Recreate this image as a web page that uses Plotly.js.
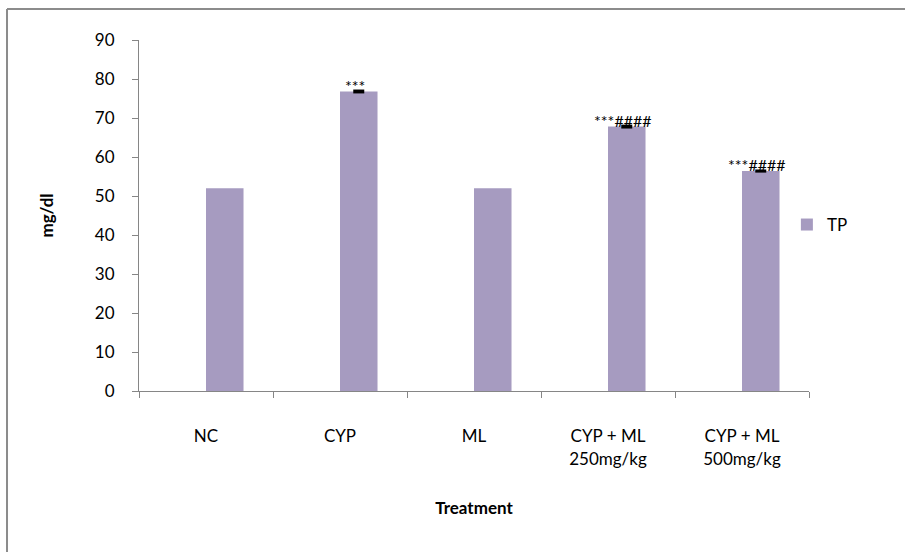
<!DOCTYPE html>
<html>
<head>
<meta charset="utf-8">
<script src="https://cdn.plot.ly/plotly-3.0.1.min.js"></script>
<style>html,body{margin:0;padding:0;background:#fff;}#chart{width:905px;height:552px;}</style>
</head>
<body>
<div id="chart"></div>
<script>
const categories = ["NC", "CYP", "ML", "CYP + ML<br>250mg/kg", "CYP + ML<br>500mg/kg"];
const tpValues = [52, 76.8, 52, 67.8, 56.4];
const tpErrors = [0, 0.5, 0, 0.5, 0.4];
const significance = ["", "***", "", "***####", "***####"];
const yTicks = [0, 10, 20, 30, 40, 50, 60, 70, 80, 90];

const font = "Lato, 'Open Sans', sans-serif";
const grey = "#868686";

const trace = {
  type: "bar",
  name: "TP",
  x: categories,
  y: tpValues,
  width: 0.28,
  offset: 0,
  marker: {color: "#a69bc0", line: {width: 0}},
  error_y: {type: "data", array: tpErrors, visible: true, color: "#000", thickness: 11, width: 0},
  showlegend: true
};

const annotations = categories.map((c, i) => significance[i] ? ({
  x: c, y: tpValues[i] + tpErrors[i], xref: "x", yref: "y",
  text: significance[i], showarrow: false, xanchor: "center", yanchor: "bottom",
  xshift: 15, yshift: -7, font: {family: font, size: 16, color: "#000"}
}) : null).filter(a => a);

const layout = {
  width: 905, height: 552,
  margin: {l: 139, r: 96, t: 40, b: 161},
  paper_bgcolor: "#fff", plot_bgcolor: "#fff",
  font: {family: font, size: 17, color: "#000"},
  xaxis: {
    type: "category", tickson: "boundaries", ticks: "outside", ticklen: 6, tickcolor: grey,
    showline: true, linecolor: grey, linewidth: 1, showgrid: false, zeroline: false,
    ticklabelstandoff: 30,
    tickfont: {family: font, size: 17, color: "#000"},
    title: {text: "<b>Treatment</b>", font: {family: font, size: 17}, standoff: 34},
    automargin: false
  },
  yaxis: {
    range: [0, 90], tickvals: yTicks, ticktext: yTicks.map(String),
    ticks: "outside", ticklen: 6, tickcolor: grey,
    showline: true, linecolor: grey, linewidth: 1, showgrid: false, zeroline: false,
    ticklabelstandoff: 14,
    tickfont: {family: font, size: 17, color: "#000"},
    title: {text: "<b>mg/dl</b>", font: {family: font, size: 17}, standoff: 36},
    automargin: false
  },
  legend: {x: 0.967, y: 0.473, xanchor: "left", yanchor: "middle", bgcolor: "rgba(0,0,0,0)",
    font: {family: font, size: 17}, itemwidth: 30},
  annotations: annotations,
  shapes: [
    {type: "line", xref: "paper", yref: "paper", x0: -0.197, x1: -0.197, y0: -0.5, y1: 1.088,
     line: {color: "#8c8c8c", width: 2}},
    {type: "line", xref: "paper", yref: "paper", x0: -0.197, x1: 1.2, y0: 1.088, y1: 1.088,
     line: {color: "#8c8c8c", width: 2}}
  ]
};

Plotly.newPlot("chart", [trace], layout, {displayModeBar: false, staticPlot: true});
</script>
</body>
</html>
